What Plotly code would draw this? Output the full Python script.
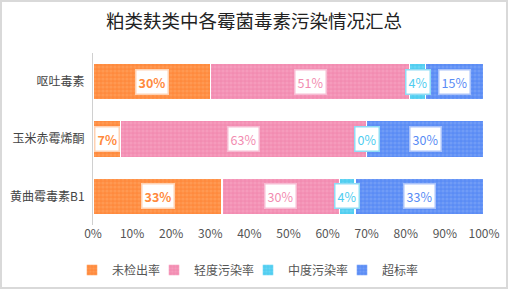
import plotly.graph_objects as go

categories = ["黄曲霉毒素B1", "玉米赤霉烯酮", "呕吐毒素"]
series_names = ["未检出率", "轻度污染率", "中度污染率", "超标率"]
undetected = [33, 7, 30]
mild = [30, 63, 51]
moderate = [4, 0, 4]
exceed = [33, 30, 15]
tick_vals = [0, 10, 20, 30, 40, 50, 60, 70, 80, 90, 100]
tick_text = [f"{v}%" for v in tick_vals]

series_values = [undetected, mild, moderate, exceed]
colors = ["#ff8a3d", "#f28cb1", "#4fcdf0", "#5a8cf5"]
light = ["#ffa867", "#f7aac8", "#7fdcf5", "#86abf8"]
label_border = ["#ffd2b3", "#f7bcd3", "#8fdcf5", "#a9c2fa"]
text_colors = ["#ff8a3d", "#f28cb1", "#4fcdf0", "#5a8cf5"]

W, H = 508, 289
ml, mr, mt, mb = 93, 24, 53, 64
pw, ph = W - ml - mr, H - mt - mb
legend_text_x = [114, 196, 290, 384]

fig = go.Figure()
for i, (name, vals, c, lc) in enumerate(zip(series_names, series_values, colors, light)):
    fig.add_trace(go.Bar(
        y=categories, x=vals, name=name, orientation="h",
        legend="legend" if i == 0 else f"legend{i + 1}",
        marker=dict(color=c, line=dict(color="white", width=1.5),
                    pattern=dict(shape=".", fgcolor=lc, bgcolor=c, size=4, solidity=0.5)),
        hoverinfo="skip",
    ))

annotations = []
for ci, cat in enumerate(categories):
    cum = 0
    for si, vals in enumerate(series_values):
        v = vals[ci]
        mid = cum + v / 2
        cum += v
        annotations.append(dict(
            x=mid, y=cat, xref="x", yref="y", text=f"{v}%", showarrow=False,
            font=dict(family="Noto Sans CJK SC", size=12.5, color=text_colors[si],
                      weight="bold" if si == 0 else "normal"),
            bgcolor="white", bordercolor=label_border[si], borderwidth=1.5, borderpad=2,
        ))

legends = {}
for i, tx in enumerate(legend_text_x):
    key = "legend" if i == 0 else f"legend{i + 1}"
    legends[key] = dict(
        orientation="h", xref="paper", yref="paper",
        x=(tx - 42 - ml) / pw, xanchor="left", y=-(270 - (H - mb)) / ph, yanchor="middle",
        font=dict(family="Noto Sans CJK SC", size=12, color="#555"),
        itemwidth=30, itemclick=False, bgcolor="rgba(0,0,0,0)",
    )

fig.update_layout(
    width=W, height=H, barmode="stack", bargap=0.36,
    margin=dict(l=ml, r=mr, t=mt, b=mb, autoexpand=False),
    paper_bgcolor="white", plot_bgcolor="white",
    font=dict(family="Noto Sans CJK SC", size=12, color="#555"),
    title=dict(text="粕类麸类中各霉菌毒素污染情况汇总", xref="container", yref="container",
               x=0.5, xanchor="center", y=1 - 22 / H, yanchor="middle",
               font=dict(family="Noto Sans CJK SC", size=18.5, color="#222")),
    xaxis=dict(range=[0, 100], tickvals=tick_vals, ticktext=tick_text, showgrid=False,
               zeroline=False, showline=False, ticks="", automargin=False,
               tickfont=dict(size=12, color="#555")),
    yaxis=dict(showgrid=False, zeroline=False, showline=True, linecolor="#d0d0d0", linewidth=1,
               ticks="", ticklabelstandoff=5, automargin=False,
               tickfont=dict(size=12, color="#444")),
    showlegend=True,
    annotations=annotations,
    shapes=[dict(type="rect", xref="paper", yref="paper",
                 x0=(-ml + 1) / pw, x1=1 + (mr - 1) / pw,
                 y0=(-mb + 1) / ph, y1=1 + (mt - 1) / ph,
                 line=dict(color="#d9d9d9", width=2), layer="below")],
    **legends,
)
fig.write_html("out.html")
